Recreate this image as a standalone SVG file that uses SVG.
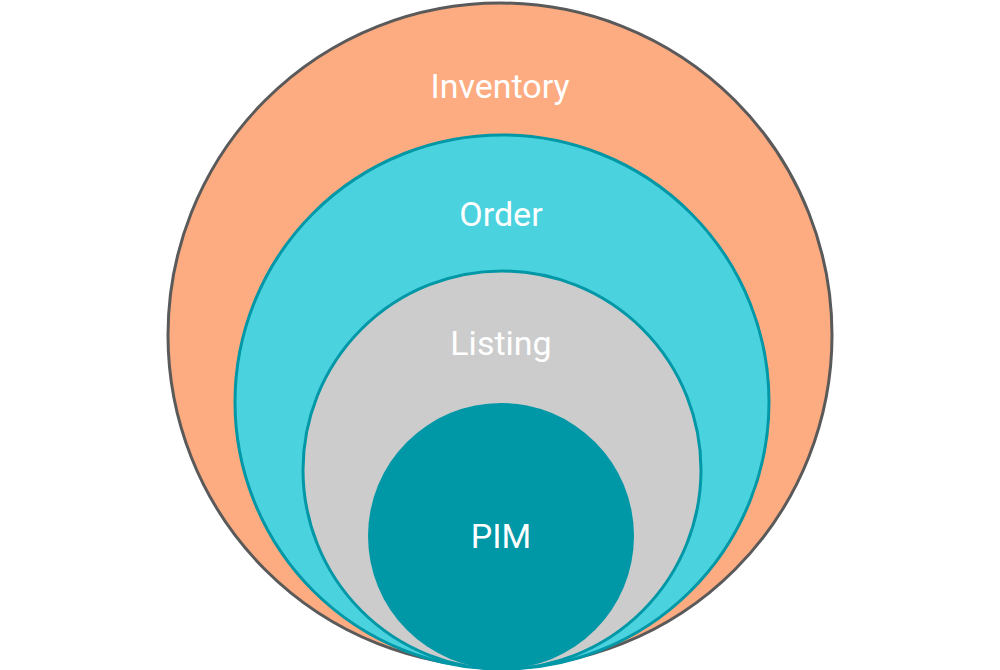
<svg xmlns="http://www.w3.org/2000/svg" width="1000" height="670" viewBox="0 0 1000 670">
<style>
.lbl{font-family:Roboto,"Liberation Sans",sans-serif;font-size:34px;fill:#ffffff;text-anchor:middle}
</style>
<rect width="1000" height="670" fill="#ffffff"/>
<g id="inventory">
<circle cx="500" cy="335" r="332" fill="#fdab80" stroke="#5a5a5a" stroke-width="3"/>
<text class="lbl" x="500" y="98">Inventory</text>
</g>
<g id="order">
<circle cx="502" cy="402" r="267" fill="#4bd2df" stroke="#0097a7" stroke-width="3"/>
<text class="lbl" x="501" y="226">Order</text>
</g>
<g id="listing">
<circle cx="502" cy="470" r="199" fill="#cccccc" stroke="#0097a7" stroke-width="3"/>
<text class="lbl" x="501" y="355" fill="#f7f7f7">Listing</text>
</g>
<g id="pim">
<circle cx="501" cy="536" r="133" fill="#0097a7"/>
<text class="lbl" x="501" y="548">PIM</text>
</g>
<g id="connectors"/>
</svg>
